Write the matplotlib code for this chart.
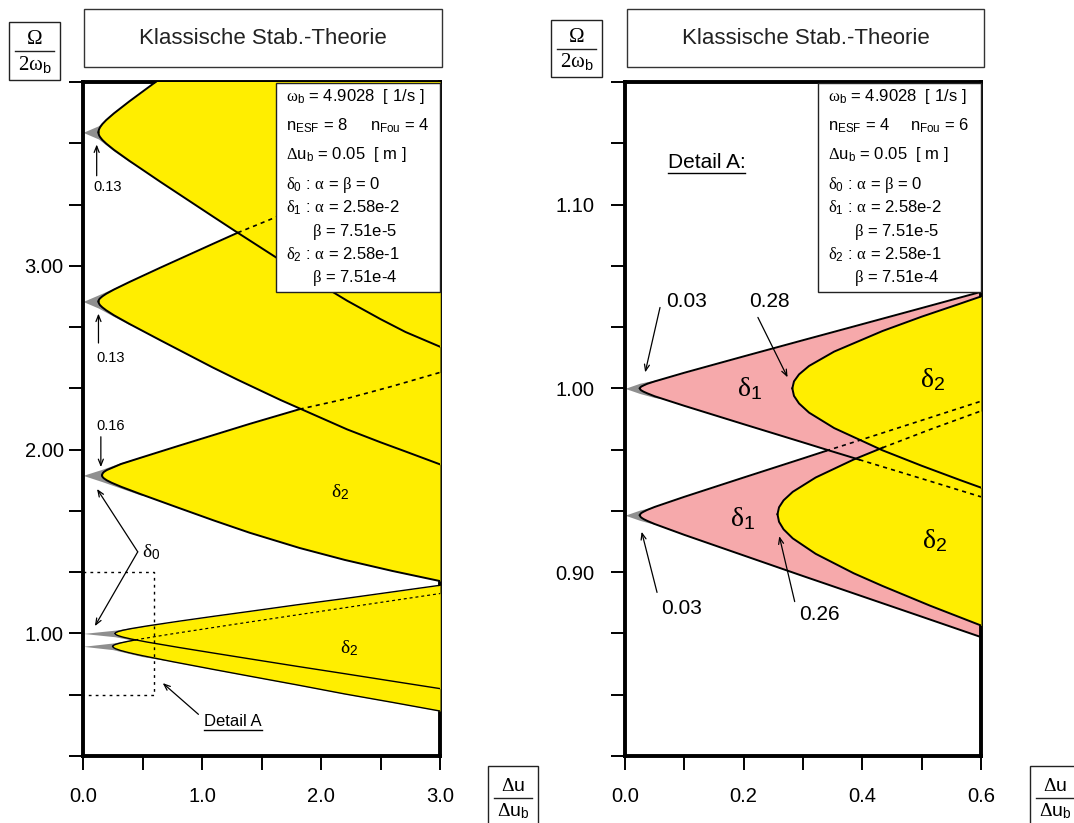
import matplotlib
matplotlib.use('Agg')
import matplotlib.pyplot as plt
from matplotlib.patches import Rectangle
from matplotlib.lines import Line2D
import numpy as np

plt.rcParams['font.family'] = ['Liberation Sans', 'DejaVu Sans']
plt.rcParams['mathtext.fontset'] = 'custom'
plt.rcParams['mathtext.rm'] = 'Liberation Serif'
plt.rcParams['mathtext.it'] = 'Liberation Serif:italic'
plt.rcParams['mathtext.sf'] = 'Liberation Sans'

# ---------------- left panel data (Du/Du_b, Omega/2w_b) ----------------
# yellow delta2 regions, one per resonance
L37_x  = [0.13, 0.1313, 0.1352, 0.143, 0.1625, 0.195, 0.26, 0.39, 0.65, 1.09, 1.30, 1.66, 1.94, 2.22, 2.50, 2.71, 3.0]
L37_up = [3.726, 3.7345, 3.743, 3.7535, 3.771, 3.793, 3.8295, 3.895, 4.019, 4.224, 4.321, 4.487, 4.62, 4.75, 4.88, 4.97, 5.1]
L37_lo = [3.726, 3.718, 3.710, 3.701, 3.685, 3.665, 3.631, 3.571, 3.457, 3.269, 3.18, 3.03, 2.92, 2.81, 2.71, 2.64, 2.56]

L28_x  = [0.13, 0.1313, 0.1352, 0.143, 0.1625, 0.195, 0.26, 0.39, 0.65, 1.09, 1.30, 1.66, 1.94, 2.22, 2.50, 2.71, 3.0]
L28_up = [2.806, 2.811, 2.817, 2.823, 2.834, 2.848, 2.871, 2.912, 2.990, 3.119, 3.18, 3.275, 3.345, 3.415, 3.48, 3.53, 3.60]
L28_lo = [2.806, 2.800, 2.794, 2.786, 2.774, 2.758, 2.731, 2.684, 2.595, 2.447, 2.38, 2.27, 2.19, 2.11, 2.04, 1.99, 1.92]

L19_x  = [0.16, 0.1616, 0.1664, 0.176, 0.2, 0.24, 0.32, 0.48, 0.8, 1.1, 1.4, 1.82, 2.2, 2.6, 3.0]
L19_up = [1.86, 1.866, 1.872, 1.879, 1.889, 1.90, 1.922, 1.955, 2.02, 2.08, 2.14, 2.22, 2.275, 2.345, 2.42]
L19_lo = [1.86, 1.8549, 1.8498, 1.8436, 1.8331, 1.82, 1.798, 1.759, 1.684, 1.6145, 1.548, 1.465, 1.40, 1.34, 1.285]

L10_x  = [0.27, 0.2727, 0.2808, 0.297, 0.3375, 0.405, 0.54, 0.81, 1.1, 1.4, 1.8, 2.2, 2.6, 3.0]
L10_up = [1.0, 1.0034, 1.0068, 1.0109, 1.0178, 1.0265, 1.041, 1.067, 1.0935, 1.12, 1.156, 1.19, 1.226, 1.262]
L10_lo = [1.0, 0.99615, 0.99225, 0.9876, 0.9797, 0.9697, 0.953, 0.9233, 0.893, 0.862, 0.821, 0.781, 0.7404, 0.70]

L09_x  = [0.25, 0.2525, 0.26, 0.275, 0.3125, 0.375, 0.44, 0.5, 0.75, 1.1, 1.4, 1.8, 2.2, 2.6, 3.0]
L09_up = [0.93, 0.9334, 0.9369, 0.941, 0.948, 0.9568, 0.9648, 0.9716, 0.9979, 1.0328, 1.0623, 1.1011, 1.1399, 1.1785, 1.217]
L09_lo = [0.93, 0.9258, 0.9216, 0.9165, 0.9079, 0.8971, 0.8873, 0.879, 0.8467, 0.8038, 0.7677, 0.72, 0.6708, 0.6251, 0.578]

# grey delta0 tips (x, upper, lower)
G37 = ([0, 0.13, 0.26, 0.39, 0.5], [3.726, 3.762, 3.838, 3.898, 3.94], [3.726, 3.69, 3.624, 3.566, 3.527])
G28 = ([0, 0.13, 0.26, 0.39, 0.5], [2.806, 2.842, 2.879, 2.916, 2.94], [2.806, 2.77, 2.724, 2.68, 2.66])
G19 = ([0, 0.16, 0.32, 0.48, 0.6], [1.86, 1.893, 1.93, 1.96, 1.975], [1.86, 1.826, 1.79, 1.754, 1.74])
G10 = ([0, 0.27, 0.405, 0.54, 0.7], [1.0, 1.018, 1.031, 1.044, 1.055], [1.0, 0.982, 0.965, 0.95, 0.937])
G09 = ([0, 0.25, 0.375, 0.5, 0.7], [0.93, 0.948, 0.961, 0.975, 0.992], [0.93, 0.912, 0.893, 0.874, 0.853])

# ---------------- right panel data (Detail A) ----------------
R10_g = ([0, 0.025, 0.05, 0.08], [1.0, 1.0028, 1.0045, 1.006], [1.0, 0.9972, 0.995, 0.9935])
R09_g = ([0, 0.025, 0.05, 0.08], [0.931, 0.9338, 0.9356, 0.9372], [0.931, 0.9282, 0.926, 0.9245])

R_d1_x    = [0.025, 0.026, 0.0275, 0.03125, 0.0375, 0.05, 0.1, 0.2, 0.3, 0.339, 0.395, 0.5, 0.6]
R10_d1_up = [1.0, 1.0006, 1.001, 1.0016, 1.0025, 1.0038, 1.0085, 1.0174, 1.0262, 1.0296, 1.0345, 1.0437, 1.0525]
R10_d1_lo = [1.0, 0.9993, 0.9989, 0.9982, 0.9973, 0.9957, 0.9905, 0.9805, 0.9706, 0.9667, 0.9612, 0.9509, 0.941]
R09_d1_up = [0.931, 0.9317, 0.9322, 0.9329, 0.9339, 0.9355, 0.941, 0.9515, 0.9619, 0.966, 0.9717, 0.9826, 0.993]
R09_d1_lo = [0.931, 0.9302, 0.9297, 0.9289, 0.9279, 0.9262, 0.9203, 0.9091, 0.8979, 0.8936, 0.8874, 0.8758, 0.8647]

R10_d2_x  = [0.282, 0.2848, 0.2933, 0.3102, 0.3525, 0.434, 0.5, 0.564, 0.6]
R10_d2_up = [1.0, 1.0038, 1.0076, 1.0122, 1.02, 1.0312, 1.039, 1.046, 1.05]
R10_d2_lo = [1.0, 0.9959, 0.9918, 0.9868, 0.9784, 0.9663, 0.9579, 0.9502, 0.946]

R09_d2_x  = [0.257, 0.2596, 0.2673, 0.2827, 0.3213, 0.3855, 0.434, 0.514, 0.6]
R09_d2_up = [0.9315, 0.9353, 0.9391, 0.9437, 0.9515, 0.9613, 0.9677, 0.9776, 0.9877]
R09_d2_lo = [0.9315, 0.9274, 0.9233, 0.9184, 0.91, 0.8994, 0.8925, 0.8818, 0.871]

# ticks
L_xticks = [0, 0.5, 1.0, 1.5, 2.0, 2.5, 3.0]
L_xlabels = ['0.0', '', '1.0', '', '2.0', '', '3.0']
L_yticks = [1/3, 2/3, 1, 4/3, 5/3, 2, 7/3, 8/3, 3, 10/3, 11/3, 4]
L_ylabels = ['', '', '1.00', '', '', '2.00', '', '', '3.00', '', '', '']
R_xticks = [0, 0.1, 0.2, 0.3, 0.4, 0.5, 0.6]
R_xlabels = ['0.0', '', '0.2', '', '0.4', '', '0.6']
R_yticks = [24/30, 25/30, 26/30, 27/30, 28/30, 29/30, 1.0, 31/30, 32/30, 33/30, 34/30, 35/30]
R_ylabels = ['', '', '', '0.90', '', '', '1.00', '', '', '1.10', '', '']

legend_left = [r'$\mathrm{\omega}_\mathsf{b}$ = 4.9028  [ 1/s ]',
               r'n$_\mathsf{ESF}$ = 8', r'$\mathrm{\Delta}$u$_\mathsf{b}$ = 0.05  [ m ]',
               r'$\mathrm{\delta}_\mathsf{0}$ : $\mathrm{\alpha}$ = $\mathrm{\beta}$ = 0',
               r'$\mathrm{\delta}_\mathsf{1}$ : $\mathrm{\alpha}$ = 2.58e-2',
               r'$\mathrm{\beta}$ = 7.51e-5',
               r'$\mathrm{\delta}_\mathsf{2}$ : $\mathrm{\alpha}$ = 2.58e-1',
               r'$\mathrm{\beta}$ = 7.51e-4']
nfou_left = r'n$_\mathsf{Fou}$ = 4'
legend_right = list(legend_left)
legend_right[1] = r'n$_\mathsf{ESF}$ = 4'
nfou_right = r'n$_\mathsf{Fou}$ = 6'

YELLOW = '#FFEE00'
PINK = '#F6A9AB'
GRAY = '#8F8F8F'
W, H = 1074, 823


def fx(px):
    return px / W


def fy(py):
    return 1 - py / H


def wedge(ax, x, up, lo, color, lw, dash_up=None, dash_lo=None, z=3):
    x = np.asarray(x)
    up = np.asarray(up)
    lo = np.asarray(lo)
    ax.fill_between(x, lo, up, color=color, lw=0, zorder=z)
    for y, xd in ((up, dash_up), (lo, dash_lo)):
        if xd is None:
            ax.plot(x, y, color='k', lw=lw, zorder=6, solid_joinstyle='round')
        else:
            m = x <= xd + 1e-9
            ax.plot(x[m], y[m], color='k', lw=lw, zorder=6, solid_joinstyle='round')
            m = x >= xd - 1e-9
            ax.plot(x[m], y[m], color='k', lw=lw * 0.85, ls=(0, (2.5, 2.5)), zorder=6)


def grey(ax, g):
    ax.fill_between(g[0], g[2], g[1], color=GRAY, lw=0, zorder=1)


def frac_box(fig, x0, y0, x1, y1, num, den, size):
    fig.add_artist(Rectangle((fx(x0), fy(y1)), fx(x1) - fx(x0), fy(y0) - fy(y1),
                             transform=fig.transFigure, fill=False, lw=1.0, ec='#222222'))
    xc = (x0 + x1) / 2
    ym = (y0 + y1) / 2
    fig.add_artist(Line2D([fx(x0 + 6), fx(x1 - 6)], [fy(ym), fy(ym)],
                          transform=fig.transFigure, color='#222222', lw=1.0))
    fig.text(fx(xc), fy(ym - 3), num, ha='center', va='bottom', fontsize=size)
    fig.text(fx(xc), fy(ym + 3), den, ha='center', va='top', fontsize=size)


def title_box(fig, x0, y0, x1, y1, txt):
    fig.add_artist(Rectangle((fx(x0), fy(y1)), fx(x1) - fx(x0), fy(y0) - fy(y1),
                             transform=fig.transFigure, fill=False, lw=1.0, ec='#333333'))
    fig.text(fx((x0 + x1) / 2), fy((y0 + y1) / 2), txt, ha='center', va='center',
             fontsize=16, color='#222222')


def legend_box(fig, x0, x1, lines, nfou, xfou):
    fig.add_artist(Rectangle((fx(x0), fy(292)), fx(x1) - fx(x0), fy(83) - fy(292),
                             transform=fig.transFigure, fc='white', ec='#222222', lw=1.0, zorder=5))
    rows = [97, 126, 155, 185, 208, 232, 255, 278]
    for t, r in zip(lines, rows):
        xo = x0 + 36 if t.startswith(r'$\mathrm{\beta}$ = 7') else x0 + 10
        fig.text(fx(xo), fy(r), t, ha='left', va='center', fontsize=12, zorder=6)
    fig.text(fx(xfou), fy(126), nfou, ha='left', va='center', fontsize=12, zorder=6)


def style_axes(ax, xt, xl, yt, yl, ypad):
    for s in ax.spines.values():
        s.set_linewidth(2.8)
    ax.set_xticks(xt)
    ax.set_xticklabels(xl)
    ax.set_yticks(yt)
    ax.set_yticklabels(yl)
    ax.tick_params(axis='both', direction='out', length=10, width=1.4, labelsize=14.5)
    ax.tick_params(axis='x', pad=12)
    ax.tick_params(axis='y', pad=ypad)


def arrow(ax, start, tip):
    ax.annotate('', xy=tip, xytext=start,
                arrowprops=dict(arrowstyle='->,head_length=0.45,head_width=0.18',
                                lw=0.9, color='k', shrinkA=0, shrinkB=0), zorder=7)


fig = plt.figure(figsize=(W / 100, H / 100), dpi=100)

# ---------------- left axes ----------------
axL = fig.add_axes([fx(83), fy(756), fx(440) - fx(83), fy(82) - fy(756)])
axL.set_xlim(0, 3.0)
axL.set_ylim(1/3, 4.0)
for g in (G37, G28, G19, G10, G09):
    grey(axL, g)
wedge(axL, L37_x, L37_up, L37_lo, YELLOW, 1.4)
wedge(axL, L28_x, L28_up, L28_lo, YELLOW, 1.4, dash_up=1.30)
wedge(axL, L19_x, L19_up, L19_lo, YELLOW, 1.4, dash_up=1.82)
wedge(axL, L10_x, L10_up, L10_lo, YELLOW, 1.0)
wedge(axL, L09_x, L09_up, L09_lo, YELLOW, 1.0, dash_up=0.44)
style_axes(axL, L_xticks, L_xlabels, L_yticks, L_ylabels, 4)

# Detail A frame
axL.plot([0, 0.6, 0.6, 0], [4/3, 4/3, 2/3, 2/3], color='k', lw=1.0, ls=(0, (2, 3)), zorder=7)

for txt, tpos, a0, a1 in [('0.13', (0.21, 3.43), (0.115, 3.49), (0.115, 3.66)),
                          ('0.13', (0.23, 2.50), (0.13, 2.58), (0.13, 2.74)),
                          ('0.16', (0.23, 2.13), (0.15, 2.07), (0.15, 1.905))]:
    axL.text(tpos[0], tpos[1], txt, ha='center', va='center', fontsize=10.5, zorder=7)
    arrow(axL, a0, a1)

arrow(axL, (0.46, 1.444), (0.118, 1.786))
arrow(axL, (0.46, 1.444), (0.10, 1.04))
axL.text(0.5, 1.444, r'$\mathrm{\delta}_\mathsf{0}$', ha='left', va='center', fontsize=14, zorder=7)
axL.text(2.16, 1.77, r'$\mathrm{\delta}_\mathsf{2}$', ha='center', va='center', fontsize=14, zorder=7)
axL.text(2.24, 0.92, r'$\mathrm{\delta}_\mathsf{2}$', ha='center', va='center', fontsize=14, zorder=7)
detL = axL.text(1.26, 0.523, 'Detail A', ha='center', va='center', fontsize=12, zorder=7)
arrow(axL, (0.97, 0.56), (0.67, 0.73))

# ---------------- right axes ----------------
axR = fig.add_axes([fx(625), fy(756), fx(981) - fx(625), fy(82) - fy(756)])
axR.set_xlim(0, 0.6)
axR.set_ylim(0.8, 35/30)
grey(axR, R10_g)
grey(axR, R09_g)
wedge(axR, R_d1_x, R10_d1_up, R10_d1_lo, PINK, 1.4, dash_lo=0.395, z=2)
wedge(axR, R_d1_x, R09_d1_up, R09_d1_lo, PINK, 1.4, dash_up=0.339, z=2)
wedge(axR, R10_d2_x, R10_d2_up, R10_d2_lo, YELLOW, 1.4, z=3)
wedge(axR, R09_d2_x, R09_d2_up, R09_d2_lo, YELLOW, 1.4, dash_up=0.434, z=3)
style_axes(axR, R_xticks, R_xlabels, R_yticks, R_ylabels, 12)

for txt, tpos, a0, a1 in [('0.03', (0.104, 1.047), (0.059, 1.044), (0.034, 1.0087)),
                          ('0.28', (0.244, 1.047), (0.224, 1.0386), (0.274, 1.006)),
                          ('0.03', (0.096, 0.880), (0.054, 0.889), (0.028, 0.922)),
                          ('0.26', (0.328, 0.877), (0.286, 0.884), (0.260, 0.9196))]:
    axR.text(tpos[0], tpos[1], txt, ha='center', va='center', fontsize=15, zorder=7)
    arrow(axR, a0, a1)

for lab, (x, y) in [(r'$\mathrm{\delta}_\mathsf{1}$', (0.21, 1.0)),
                    (r'$\mathrm{\delta}_\mathsf{2}$', (0.518, 1.005)),
                    (r'$\mathrm{\delta}_\mathsf{1}$', (0.198, 0.929)),
                    (r'$\mathrm{\delta}_\mathsf{2}$', (0.521, 0.917))]:
    axR.text(x, y, lab, ha='center', va='center', fontsize=20, zorder=7)
detR = axR.text(0.072, 1.1228, 'Detail A:', ha='left', va='center', fontsize=15, zorder=7)

# ---------------- boxes around the axes ----------------
title_box(fig, 84, 9, 442, 67, 'Klassische Stab.-Theorie')
title_box(fig, 627, 9, 984, 67, 'Klassische Stab.-Theorie')
frac_box(fig, 9, 22, 60, 80, r'$\mathrm{\Omega}$', r'$\mathrm{2\omega}_\mathsf{b}$', 15)
frac_box(fig, 551, 20, 602, 77, r'$\mathrm{\Omega}$', r'$\mathrm{2\omega}_\mathsf{b}$', 15)
frac_box(fig, 488, 766, 538, 830, r'$\mathrm{\Delta}$u', r'$\mathrm{\Delta}$u$_\mathsf{b}$', 14)
frac_box(fig, 1030, 766, 1080, 830, r'$\mathrm{\Delta}$u', r'$\mathrm{\Delta}$u$_\mathsf{b}$', 14)
legend_box(fig, 276, 440, legend_left, nfou_left, 370)
legend_box(fig, 818, 981, legend_right, nfou_right, 910)

# underline the "Detail A" labels
fig.canvas.draw()
for t in (detL, detR):
    bb = t.get_window_extent()
    fig.add_artist(Line2D([bb.x0 / W, bb.x1 / W], [(bb.y0 - 1) / H, (bb.y0 - 1) / H],
                          transform=fig.transFigure, color='k', lw=1.0))

fig.savefig('out.png', dpi=100)
